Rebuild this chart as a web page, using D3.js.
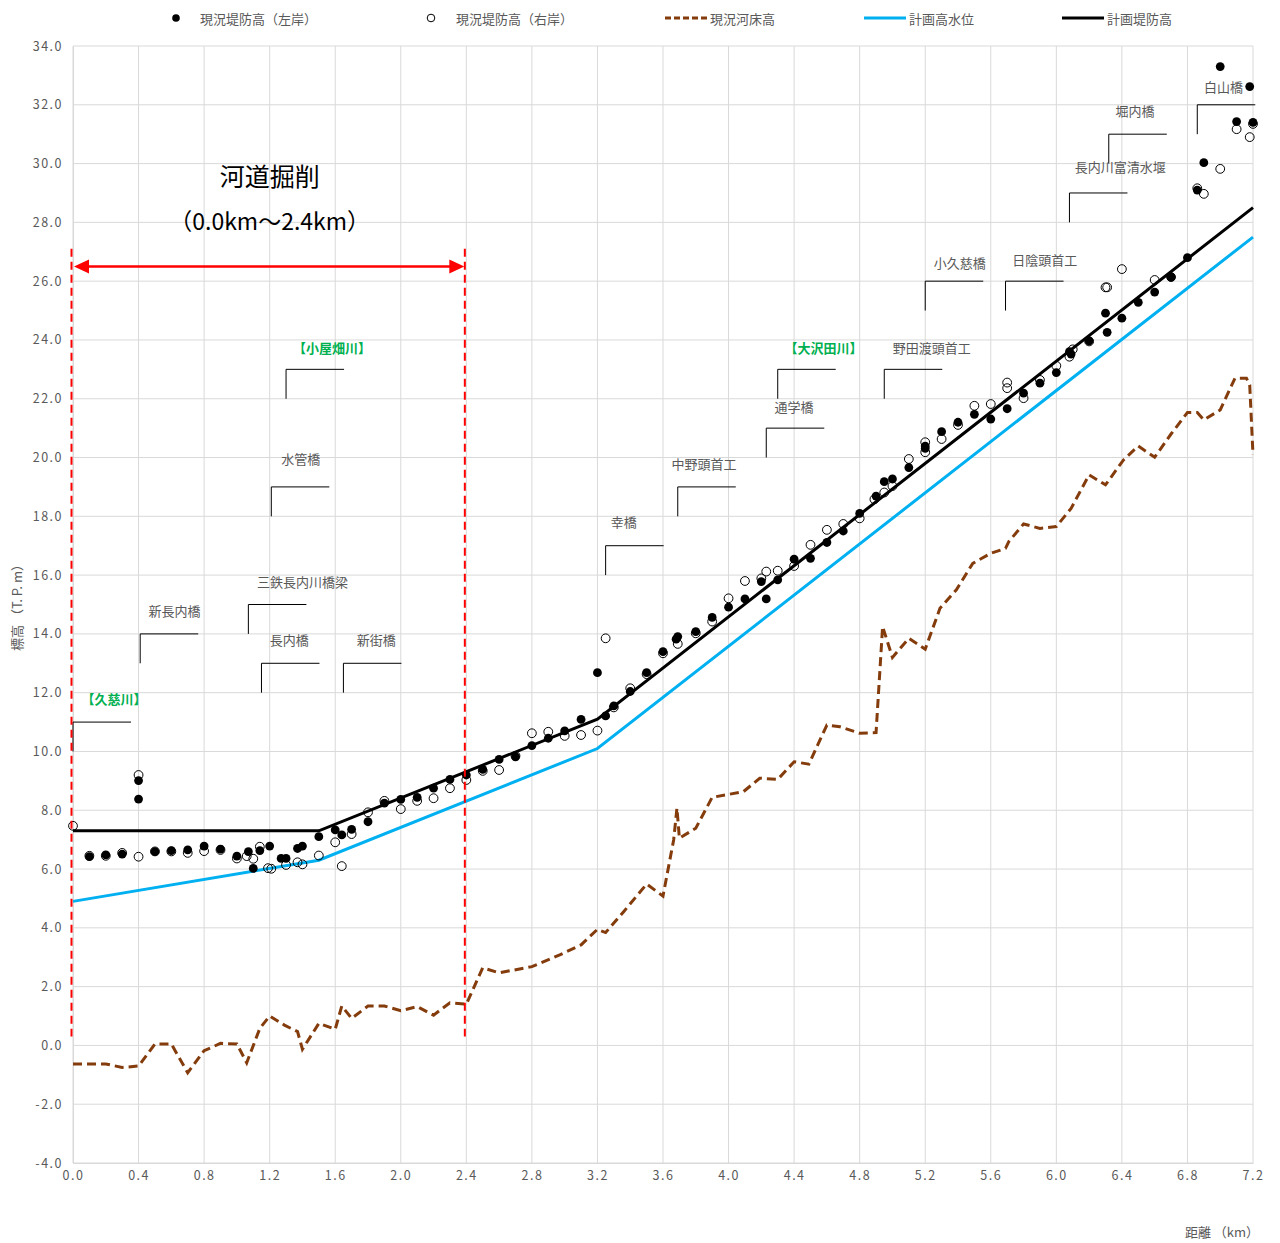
<!DOCTYPE html>
<html lang="ja">
<head>
<meta charset="utf-8">
<script src="https://cdn.jsdelivr.net/npm/d3@7"></script>
<style>
  html, body { margin: 0; padding: 0; background: #fff; }
  svg { display: block; font-family: "Noto Sans CJK JP", "Noto Sans", sans-serif; }
</style>
</head>
<body>
<svg id="chart" width="1280" height="1243"></svg>
<script>
// ---- data ----
const xTicks = [0, 0.4, 0.8, 1.2, 1.6, 2.0, 2.4, 2.8, 3.2, 3.6, 4.0, 4.4, 4.8, 5.2, 5.6, 6.0, 6.4, 6.8, 7.2];
const yTicks = [-4, -2, 0, 2, 4, 6, 8, 10, 12, 14, 16, 18, 20, 22, 24, 26, 28, 30, 32, 34];

// 現況堤防高（左岸） [km, T.P.m]
const leftBank = [
  [0.1,6.42],[0.2,6.48],[0.3,6.51],[0.4,9.01],[0.4,8.38],[0.5,6.59],[0.6,6.63],[0.7,6.65],
  [0.8,6.78],[0.9,6.68],[1.0,6.44],[1.07,6.59],[1.1,6.02],[1.14,6.63],[1.2,6.78],[1.27,6.36],
  [1.3,6.36],[1.37,6.70],[1.4,6.78],[1.5,7.10],[1.6,7.33],[1.64,7.16],[1.7,7.35],[1.8,7.61],
  [1.9,8.24],[2.0,8.37],[2.1,8.44],[2.2,8.75],[2.3,9.05],[2.4,9.20],[2.5,9.39],[2.6,9.73],
  [2.7,9.82],[2.8,10.20],[2.9,10.45],[3.0,10.70],[3.1,11.09],[3.2,12.68],[3.25,11.21],[3.3,11.55],
  [3.4,12.04],[3.5,12.68],[3.6,13.40],[3.68,13.82],[3.69,13.91],[3.8,14.08],[3.9,14.56],[4.0,14.91],
  [4.1,15.19],[4.2,15.78],[4.23,15.19],[4.3,15.84],[4.4,16.54],[4.5,16.57],[4.6,17.11],[4.7,17.50],
  [4.8,18.10],[4.9,18.69],[4.95,19.18],[5.0,19.27],[5.1,19.66],[5.2,20.39],[5.2,20.31],[5.3,20.88],
  [5.4,21.20],[5.5,21.47],[5.6,21.31],[5.7,21.66],[5.8,22.19],[5.9,22.53],[6.0,22.89],[6.08,23.60],
  [6.09,23.52],[6.2,23.97],[6.3,24.91],[6.31,24.26],[6.4,24.74],[6.5,25.28],[6.6,25.63],[6.7,26.14],
  [6.8,26.80],[6.86,29.10],[6.9,30.03],[7.0,33.30],[7.1,31.43],[7.18,32.62],[7.2,31.40]
];

// 現況堤防高（右岸） [km, T.P.m]
const rightBank = [
  [0.0,7.47],[0.1,6.45],[0.2,6.45],[0.3,6.55],[0.4,9.20],[0.4,6.42],[0.5,6.60],[0.6,6.60],
  [0.7,6.55],[0.8,6.61],[0.9,6.65],[1.0,6.36],[1.06,6.44],[1.1,6.35],[1.14,6.76],[1.19,6.03],
  [1.21,6.01],[1.3,6.14],[1.37,6.23],[1.4,6.16],[1.5,6.46],[1.6,6.91],[1.64,6.10],[1.7,7.19],
  [1.8,7.93],[1.9,8.32],[2.0,8.04],[2.1,8.32],[2.2,8.41],[2.3,8.75],[2.4,9.03],[2.5,9.34],
  [2.6,9.37],[2.7,9.85],[2.8,10.62],[2.9,10.67],[3.0,10.53],[3.1,10.56],[3.2,10.71],[3.25,13.85],
  [3.3,11.50],[3.4,12.15],[3.5,12.63],[3.6,13.34],[3.69,13.66],[3.8,14.02],[3.9,14.42],[4.0,15.21],
  [4.1,15.80],[4.2,15.89],[4.23,16.12],[4.3,16.15],[4.4,16.31],[4.5,17.03],[4.6,17.54],[4.7,17.74],
  [4.8,17.93],[4.89,18.58],[4.95,18.81],[5.0,19.03],[5.1,19.95],[5.2,20.52],[5.2,20.18],[5.3,20.63],
  [5.4,21.11],[5.5,21.76],[5.6,21.82],[5.7,22.55],[5.7,22.36],[5.8,22.02],[5.9,22.64],[6.0,23.12],
  [6.08,23.43],[6.1,23.68],[6.2,23.95],[6.3,25.79],[6.31,25.79],[6.4,26.41],[6.6,26.04],[6.7,26.14],
  [6.86,29.16],[6.9,28.97],[7.0,29.82],[7.1,31.17],[7.18,30.90],[7.2,31.35]
];

// 現況河床高 [km, T.P.m]
const riverBed = [
  [0.0,-0.63],[0.2,-0.63],[0.3,-0.75],[0.4,-0.70],[0.5,0.05],[0.6,0.05],[0.7,-0.93],[0.8,-0.18],
  [0.9,0.07],[1.0,0.05],[1.06,-0.59],[1.14,0.58],[1.2,1.00],[1.29,0.69],[1.37,0.47],[1.4,-0.13],
  [1.5,0.75],[1.6,0.55],[1.64,1.34],[1.7,0.92],[1.8,1.34],[1.9,1.34],[2.0,1.18],[2.1,1.32],
  [2.2,1.03],[2.3,1.45],[2.4,1.40],[2.5,2.64],[2.6,2.47],[2.8,2.68],[2.97,3.08],[3.1,3.42],
  [3.2,3.95],[3.25,3.84],[3.36,4.55],[3.5,5.49],[3.6,5.08],[3.665,6.99],[3.685,8.07],[3.7,7.05],
  [3.8,7.39],[3.9,8.44],[4.09,8.63],[4.19,9.09],[4.3,9.05],[4.4,9.65],[4.49,9.57],[4.6,10.90],
  [4.68,10.84],[4.8,10.62],[4.9,10.64],[4.94,14.25],[5.0,13.20],[5.1,13.85],[5.2,13.48],[5.29,14.87],
  [5.39,15.50],[5.49,16.40],[5.6,16.74],[5.69,16.91],[5.71,17.14],[5.8,17.74],[5.9,17.59],[6.0,17.65],
  [6.09,18.27],[6.2,19.41],[6.3,19.07],[6.41,19.92],[6.5,20.39],[6.6,20.01],[6.7,20.80],[6.8,21.53],
  [6.86,21.53],[6.9,21.28],[7.0,21.62],[7.09,22.70],[7.16,22.70],[7.18,22.47],[7.2,20.09]
];

// 計画高水位 [km, T.P.m]
const planHWL = [[0.0,4.90],[1.5,6.30],[3.2,10.10],[7.2,27.50]];
// 計画堤防高 [km, T.P.m]
const planDike = [[0.0,7.30],[1.5,7.30],[3.2,11.10],[7.2,28.50]];

// 河道掘削区間 [km]
const excavation = [0.0, 2.4];

// structures along the river: name, location km, bracket elevation, label km, label elevation, tributary?
const structures = [
  ["【久慈川】",     0.00, 11, 0.25, 11.79, true],
  ["新長内橋",       0.41, 14, 0.62, 14.79, false],
  ["三鉄長内川橋梁", 1.07, 15, 1.40, 15.78, false],
  ["長内橋",         1.15, 13, 1.32, 13.81, false],
  ["新街橋",         1.65, 13, 1.85, 13.81, false],
  ["水管橋",         1.21, 19, 1.39, 19.95, false],
  ["【小屋畑川】",   1.30, 23, 1.58, 23.73, true],
  ["幸橋",           3.25, 17, 3.36, 17.84, false],
  ["中野頭首工",     3.69, 19, 3.85, 19.81, false],
  ["通学橋",         4.23, 21, 4.40, 21.72, false],
  ["【大沢田川】",   4.30, 23, 4.58, 23.76, true],
  ["野田渡頭首工",   4.95, 23, 5.24, 23.76, false],
  ["小久慈橋",       5.20, 26, 5.41, 26.62, false],
  ["日陰頭首工",     5.69, 26, 5.93, 26.72, false],
  ["長内川富清水堰", 6.08, 29, 6.39, 29.89, false],
  ["堀内橋",         6.32, 31, 6.48, 31.79, false],
  ["白山橋",         6.86, 32, 7.02, 32.61, false]
];

// ---- drawing ----
const svg = d3.select("#chart");
const x = d3.scaleLinear().domain([0, 7.2]).range([73, 1253]);
const y = d3.scaleLinear().domain([-4, 34]).range([1163, 46]);
const grey = "#595959";
const gridColor = "#d9d9d9";

// grid
const grid = svg.append("g");
grid.selectAll("line.h").data(yTicks).join("line")
  .attr("x1", x(0)).attr("x2", x(7.2))
  .attr("y1", d => y(d)).attr("y2", d => y(d))
  .attr("stroke", gridColor).attr("stroke-width", 1);
grid.selectAll("line.v").data(xTicks).join("line")
  .attr("x1", d => x(d)).attr("x2", d => x(d))
  .attr("y1", y(-4)).attr("y2", y(34))
  .attr("stroke", gridColor).attr("stroke-width", 1);

// axes (tick labels only)
const fmt = d => d.toFixed(1);
const yAxis = d3.axisLeft(y).tickValues(yTicks).tickFormat(fmt).tickSize(0).tickPadding(10);
const gy = svg.append("g").attr("transform", `translate(${x(0)},0)`).call(yAxis);
gy.select(".domain").attr("stroke", gridColor);
gy.selectAll("text").attr("fill", grey).style("font-size", "12.5px").style("letter-spacing", "1.5px")
  .attr("font-family", "'Noto Sans CJK JP', sans-serif");

const xAxis = d3.axisBottom(x).tickValues(xTicks).tickFormat(fmt).tickSize(0).tickPadding(8);
const gx = svg.append("g").attr("transform", `translate(0,${y(-4)})`).call(xAxis);
gx.select(".domain").attr("stroke", gridColor);
gx.selectAll("text").attr("fill", grey).style("font-size", "12.5px").style("letter-spacing", "1.5px")
  .attr("font-family", "'Noto Sans CJK JP', sans-serif");

// axis titles
svg.append("text")
  .attr("transform", `translate(22,${y(15)}) rotate(-90)`)
  .attr("text-anchor", "middle")
  .attr("fill", grey).style("font-size", "13px")
  .text("標高 （T. P. m）");
svg.append("text")
  .attr("x", 1222).attr("y", 1237)
  .attr("text-anchor", "middle")
  .attr("fill", grey).style("font-size", "13px")
  .text("距離 （km）");

// series lines
const line = d3.line().x(d => x(d[0])).y(d => y(d[1]));
svg.append("path").datum(riverBed).attr("d", line)
  .attr("fill", "none").attr("stroke", "#843c0c").attr("stroke-width", 3)
  .attr("stroke-dasharray", "9,5");
svg.append("path").datum(planHWL).attr("d", line)
  .attr("fill", "none").attr("stroke", "#00b0f0").attr("stroke-width", 3);
svg.append("path").datum(planDike).attr("d", line)
  .attr("fill", "none").attr("stroke", "#000").attr("stroke-width", 3);

// markers
svg.append("g").selectAll("circle").data(rightBank).join("circle")
  .attr("cx", d => x(d[0])).attr("cy", d => y(d[1])).attr("r", 4.4)
  .attr("fill", "none").attr("stroke", "#000").attr("stroke-width", 1);
svg.append("g").selectAll("circle").data(leftBank).join("circle")
  .attr("cx", d => x(d[0])).attr("cy", d => y(d[1])).attr("r", 4.4)
  .attr("fill", "#000");

// structure brackets and labels
const ann = svg.append("g");
const bracketLen = 0.354;
structures.forEach(([name, km, elev, lk, le, trib]) => {
  ann.append("path")
    .attr("d", `M${x(km)},${y(elev - 1)}V${y(elev)}H${x(km + bracketLen)}`)
    .attr("fill", "none").attr("stroke", "#000").attr("stroke-width", 1);
  ann.append("text")
    .attr("x", x(lk)).attr("y", y(le))
    .attr("text-anchor", "middle").attr("dominant-baseline", "central")
    .attr("fill", trib ? "#00b050" : grey)
    .style("font-size", "13px").style("font-weight", trib ? "bold" : "normal")
    .text(name);
});

// excavation range
const exc = svg.append("g");
exc.selectAll("line").data(excavation).join("line")
  .attr("x1", d => x(d) - 1.5).attr("x2", d => x(d) - 1.5)
  .attr("y1", y(27.1)).attr("y2", y(0.3))
  .attr("stroke", "#ff0000").attr("stroke-width", 2).attr("stroke-dasharray", "8,5");
const ay = y(26.5);
const ax0 = x(excavation[0]) + 1, ax1 = x(excavation[1]) - 2;
exc.append("line").attr("x1", ax0 + 12).attr("x2", ax1 - 12).attr("y1", ay).attr("y2", ay)
  .attr("stroke", "#ff0000").attr("stroke-width", 2.5);
exc.append("path").attr("d", `M${ax0},${ay}l15,-7v14z`).attr("fill", "#ff0000");
exc.append("path").attr("d", `M${ax1},${ay}l-15,-7v14z`).attr("fill", "#ff0000");
const midKm = (excavation[0] + excavation[1]) / 2;
exc.append("text").attr("x", x(midKm)).attr("y", y(29.62))
  .attr("text-anchor", "middle").attr("dominant-baseline", "central")
  .attr("fill", "#000").style("font-size", "25px")
  .text("河道掘削");
exc.append("text").attr("x", x(midKm)).attr("y", y(28.07))
  .attr("text-anchor", "middle").attr("dominant-baseline", "central")
  .attr("fill", "#000").style("font-size", "23px")
  .text(`（${excavation[0].toFixed(1)}km～${excavation[1].toFixed(1)}km）`);

// legend
const legend = svg.append("g").attr("transform", "translate(0,18)");
const legendItems = [
  { label: "現況堤防高（左岸）", kind: "filled", sx: 176, tx: 200 },
  { label: "現況堤防高（右岸）", kind: "open", sx: 431, tx: 456 },
  { label: "現況河床高", kind: "bed", sx: 665, tx: 710 },
  { label: "計画高水位", kind: "hwl", sx: 864, tx: 909 },
  { label: "計画堤防高", kind: "dike", sx: 1062, tx: 1107 }
];
legendItems.forEach(it => {
  if (it.kind === "filled") {
    legend.append("circle").attr("cx", it.sx).attr("cy", 0).attr("r", 3.8).attr("fill", "#000");
  } else if (it.kind === "open") {
    legend.append("circle").attr("cx", it.sx).attr("cy", 0).attr("r", 3.8)
      .attr("fill", "none").attr("stroke", "#000").attr("stroke-width", 1);
  } else {
    const st = it.kind === "bed" ? { c: "#843c0c", w: 3, d: "6,3" }
      : it.kind === "hwl" ? { c: "#00b0f0", w: 3, d: null } : { c: "#000", w: 3, d: null };
    const l = legend.append("line").attr("x1", it.sx).attr("x2", it.sx + 42)
      .attr("y1", 0).attr("y2", 0).attr("stroke", st.c).attr("stroke-width", st.w);
    if (st.d) l.attr("stroke-dasharray", st.d);
  }
  legend.append("text").attr("x", it.tx).attr("y", 0)
    .attr("dominant-baseline", "central").attr("fill", grey).style("font-size", "13px")
    .text(it.label);
});
</script>
</body>
</html>
